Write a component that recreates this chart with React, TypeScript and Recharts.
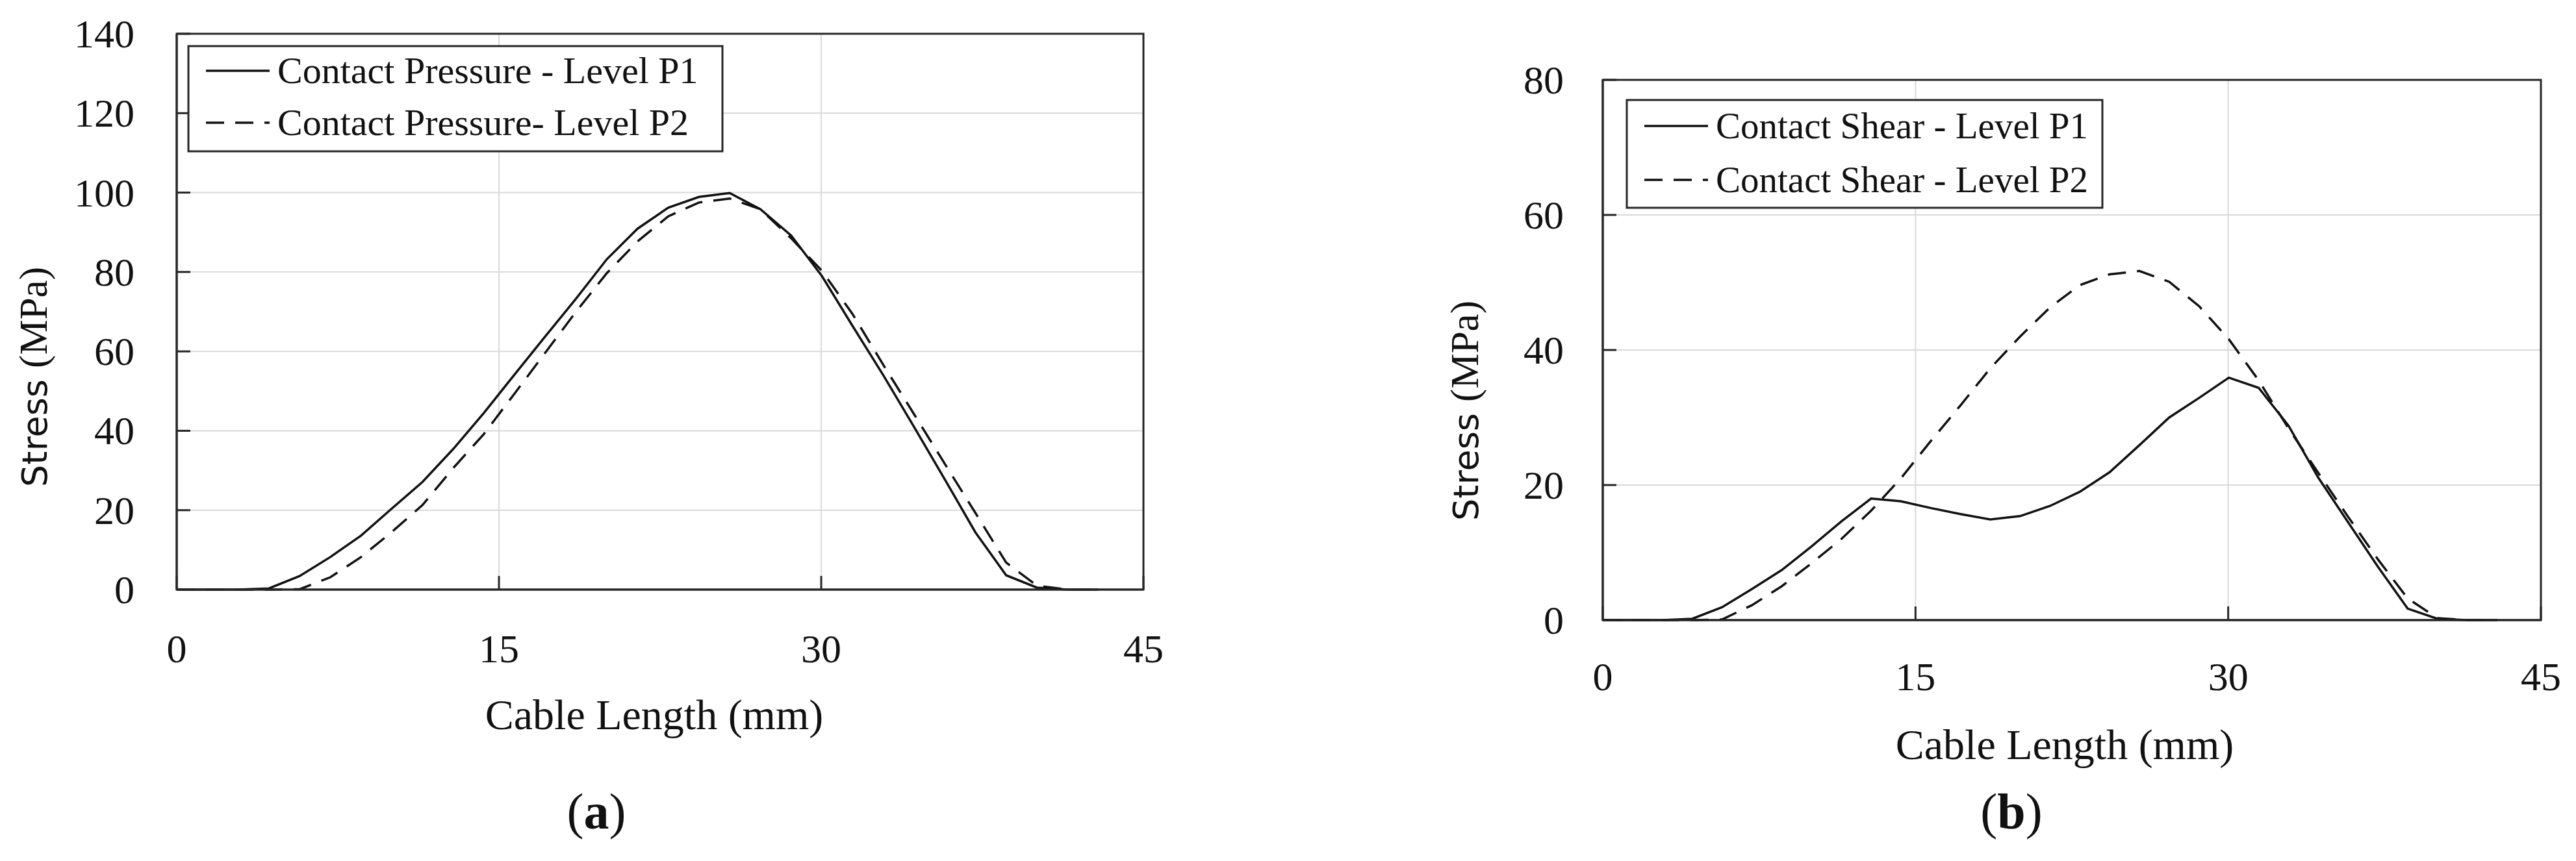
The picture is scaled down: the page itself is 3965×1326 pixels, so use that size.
import React from 'react';
import { LineChart, Line, XAxis, YAxis, CartesianGrid, ReferenceArea } from 'recharts';

// ---- data ----
const cableLength = [0, 1.43, 2.86, 4.29, 5.72, 7.15, 8.58, 10.01, 11.44, 12.87, 14.3, 15.73, 17.16, 18.59, 20.02, 21.45, 22.88, 24.31, 25.74, 27.17, 28.6, 30.03, 31.46, 32.89, 34.32, 35.75, 37.18, 38.61, 40.04, 41.47, 42.9];
const pressureP1 = [0, 0, 0, 0.3, 3.4, 8.2, 13.6, 20.4, 27.1, 35.4, 44.5, 54.2, 63.8, 73.3, 83.2, 90.9, 96.2, 98.9, 99.9, 95.8, 89.2, 79.0, 66.4, 54.0, 41.0, 27.8, 14.4, 3.6, 0.5, 0, 0];
const pressureP2 = [0, 0, 0, 0, 0.1, 3.1, 8.2, 14.5, 21.3, 30.6, 39.2, 49.4, 59.7, 70.0, 79.7, 87.7, 94.0, 97.5, 98.5, 95.8, 88.5, 80.3, 69.4, 56.6, 44.2, 31.7, 19.3, 6.8, 1.0, 0, 0];
const shearP1 = [0, 0, 0, 0.2, 1.9, 4.6, 7.4, 10.9, 14.6, 18.0, 17.6, 16.6, 15.7, 14.9, 15.4, 16.9, 19.0, 21.9, 25.9, 30.0, 32.9, 35.9, 34.4, 28.8, 21.1, 14.5, 7.9, 1.7, 0.2, 0, 0];
const shearP2 = [0, 0, 0, 0, 0.1, 2.2, 5.0, 8.4, 12.0, 16.2, 21.0, 26.5, 31.8, 37.3, 42.0, 46.3, 49.6, 51.2, 51.7, 50.1, 46.5, 41.6, 35.5, 28.4, 21.8, 15.3, 9.0, 3.2, 0.3, 0, 0];

const xTicks = [0, 15, 30, 45];
const pressureTicks = [0, 20, 40, 60, 80, 100, 120, 140];
const shearTicks = [0, 20, 40, 60, 80];

const pressureNames = ['Contact Pressure - Level P1', 'Contact Pressure- Level P2'];
const shearNames = ['Contact Shear - Level P1', 'Contact Shear - Level P2'];

const pressureData = cableLength.map((x, i) => ({ x, p1: pressureP1[i], p2: pressureP2[i] }));
const shearData = cableLength.map((x, i) => ({ x, p1: shearP1[i], p2: shearP2[i] }));

// ---- styles ----
const SERIF = '"Liberation Serif", "Times New Roman", serif';
const SANS = '"DejaVu Sans", Verdana, sans-serif';
const INK = '#111';
const AXIS = '#262626';
const GRID = '#d9d9d9';
const DASH = '28 17';

type PanelProps = {
  data: any[];
  yTicks: number[];
  yMax: number;
  left: number;
  width: number;
  margin: { top: number; right: number; left: number; bottom: number };
  yLabelGap: number;
  xLabelDrop: number;
};

const Panel = ({ data, yTicks, yMax, left, width, margin, yLabelGap, xLabelDrop }: PanelProps) => {
  const YTick = (props: any) => {
    const { x, y, payload } = props;
    return (
      <g>
        <line x1={x} x2={x + 21} y1={y} y2={y} stroke={AXIS} strokeWidth={3} />
        <text x={x - yLabelGap} y={y + 21} textAnchor="end" fontFamily={SERIF} fontSize={62} fill={INK}>
          {payload.value}
        </text>
      </g>
    );
  };
  const XTick = (props: any) => {
    const { x, y, payload } = props;
    return (
      <g>
        <line x1={x} x2={x} y1={y} y2={y - 21} stroke={AXIS} strokeWidth={3} />
        <text x={x} y={y + xLabelDrop} textAnchor="middle" fontFamily={SERIF} fontSize={62} fill={INK}>
          {payload.value}
        </text>
      </g>
    );
  };
  return (
    <div style={{ position: 'absolute', left, top: 0 }}>
      <LineChart width={width} height={1326} data={data} margin={margin}>
        <CartesianGrid stroke={GRID} strokeWidth={2} />
        <XAxis
          dataKey="x"
          type="number"
          domain={[0, 45]}
          ticks={xTicks}
          height={30}
          tickSize={0}
          tickMargin={0}
          tick={<XTick />}
          axisLine={{ stroke: AXIS, strokeWidth: 3 }}
          tickLine={false}
          interval={0}
        />
        <YAxis
          type="number"
          domain={[0, yMax]}
          ticks={yTicks}
          width={60}
          tickSize={0}
          tickMargin={0}
          tick={<YTick />}
          axisLine={{ stroke: AXIS, strokeWidth: 3 }}
          tickLine={false}
          interval={0}
        />
        <ReferenceArea x1={0} x2={45} y1={0} y2={yMax} fill="none" fillOpacity={0} stroke={AXIS} strokeWidth={3} ifOverflow="visible" />
        <Line type="linear" dataKey="p1" stroke={INK} strokeWidth={3.5} dot={false} isAnimationActive={false} />
        <Line type="linear" dataKey="p2" stroke={INK} strokeWidth={3.5} strokeDasharray={DASH} dot={false} isAnimationActive={false} />
      </LineChart>
    </div>
  );
};

const LegendBox = ({ x, y, w, h, names, rowY, fontSize }: { x: number; y: number; w: number; h: number; names: string[]; rowY: number[]; fontSize: number }) => (
  <g>
    <rect x={x} y={y} width={w} height={h} fill="#fff" stroke={AXIS} strokeWidth={3} />
    {names.map((n, i) => (
      <g key={n}>
        <line x1={x + 27} x2={x + 125} y1={y + rowY[i]} y2={y + rowY[i]} stroke={INK} strokeWidth={3.5} strokeDasharray={i === 1 ? DASH : undefined} />
        <text x={x + 137} y={y + rowY[i] + 19} fontFamily={SERIF} fontSize={fontSize} fill={INK}>
          {n}
        </text>
      </g>
    ))}
  </g>
);

const YTitle = ({ x, y }: { x: number; y: number }) => (
  <text transform={`translate(${x},${y}) rotate(-90)`} textAnchor="start" fill={INK}>
    <tspan fontFamily={SANS} fontSize={54}>Stress </tspan>
    <tspan fontFamily={SERIF} fontSize={61}>(MPa)</tspan>
  </text>
);

export default function App() {
  return (
    <div style={{ position: 'absolute', left: 0, top: 0, width: 3965, height: 1326, background: '#fff', overflow: 'hidden' }}>
      <Panel
        data={pressureData}
        yTicks={pressureTicks}
        yMax={140}
        left={0}
        width={1800}
        margin={{ top: 52, right: 40, left: 212, bottom: 388 }}
        yLabelGap={65}
        xLabelDrop={112}
      />
      <Panel
        data={shearData}
        yTicks={shearTicks}
        yMax={80}
        left={2000}
        width={1950}
        margin={{ top: 123, right: 39, left: 407, bottom: 341 }}
        yLabelGap={60}
        xLabelDrop={108}
      />
      <svg width={3965} height={1326} style={{ position: 'absolute', left: 0, top: 0, pointerEvents: 'none' }}>
        <LegendBox x={290} y={71} w={822} h={162} names={pressureNames} rowY={[38, 118]} fontSize={58} />
        <LegendBox x={2504} y={154} w={732} h={166} names={shearNames} rowY={[40, 123]} fontSize={57} />
        <YTitle x={72} y={750} />
        <YTitle x={2275} y={802} />
        <text x={1007} y={1123} textAnchor="middle" fontFamily={SERIF} fontSize={66} fill={INK}>Cable Length (mm)</text>
        <text x={3178} y={1169} textAnchor="middle" fontFamily={SERIF} fontSize={66} fill={INK}>Cable Length (mm)</text>
        <text x={918} y={1276} textAnchor="middle" fontFamily={SERIF} fontSize={78} fill={INK}>
          (<tspan fontWeight="bold">a</tspan>)
        </text>
        <text x={3096} y={1276} textAnchor="middle" fontFamily={SERIF} fontSize={78} fill={INK}>
          (<tspan fontWeight="bold">b</tspan>)
        </text>
      </svg>
    </div>
  );
}
